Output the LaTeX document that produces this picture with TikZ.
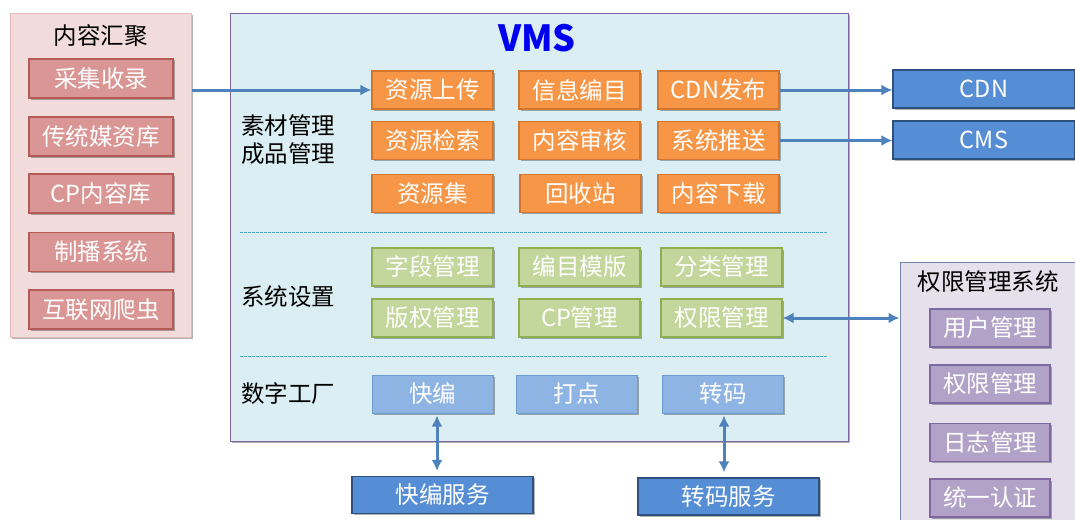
\documentclass[tikz,border=0pt]{standalone}
\usepackage{fontspec}
\setmainfont{Noto Sans CJK SC}
\usetikzlibrary{arrows.meta,shadows}
\definecolor{hjfill}{HTML}{F2DCDB}
\definecolor{hjdraw}{HTML}{E6B9B8}
\definecolor{redf}{HTML}{D99694}
\definecolor{redd}{HTML}{B65A57}
\definecolor{vmsfill}{HTML}{DAEEF3}
\definecolor{vmsdraw}{HTML}{8064A2}
\definecolor{orf}{HTML}{F79646}
\definecolor{ord}{HTML}{D2752E}
\definecolor{grf}{HTML}{C3D69B}
\definecolor{grd}{HTML}{8FAE52}
\definecolor{lbf}{HTML}{8EB4E3}
\definecolor{lbd}{HTML}{6C9BD2}
\definecolor{dbf}{HTML}{558ED5}
\definecolor{dbd}{HTML}{2F4F7F}
\definecolor{qxfill}{HTML}{E5E0EC}
\definecolor{qxdraw}{HTML}{6F86A8}
\definecolor{puf}{HTML}{B3A2C7}
\definecolor{pud}{HTML}{7D68A0}
\definecolor{arrc}{HTML}{4F81BD}
\definecolor{dashc}{HTML}{4BACC6}
\definecolor{vmsblue}{HTML}{0000F0}
\begin{document}
\begin{tikzpicture}[x=1pt,y=-1pt,
  font=\fontsize{23.5}{28}\selectfont,
  shd/.style={drop shadow={shadow xshift=1.5pt,shadow yshift=-1.5pt,opacity=0.3,fill=black}},
  panel/.style={draw, line width=1pt, inner sep=0pt, shd},
  box/.style={draw, line width=1.2pt, inner sep=0pt, text=white, minimum height=38pt, minimum width=121pt, shd},
  hjbox/.style={box, fill=redf, draw=redd, minimum width=144pt, minimum height=39pt},
  obox/.style={box, fill=orf, draw=ord},
  gbox/.style={box, fill=grf, draw=grd},
  lbox/.style={box, fill=lbf, draw=lbd, line width=1pt},
  dbox/.style={box, fill=dbf, draw=dbd, minimum width=181pt, minimum height=37pt},
  pbox/.style={box, fill=puf, draw=pud, minimum width=120pt},
  arr/.style={draw=arrc, line width=3pt, -{Latex[length=11pt,width=11pt]}},
  darr/.style={draw=arrc, line width=3pt, {Latex[length=11pt,width=11pt]}-{Latex[length=11pt,width=11pt]}},
  sep/.style={draw=dashc, line width=0.8pt, dash pattern=on 2.5pt off 1.5pt},
  lbl/.style={anchor=west, inner sep=0pt, text=black}
]
\useasboundingbox (0,0) rectangle (1075,519);

% panels
\node[panel, fill=hjfill, draw=hjdraw, minimum width=181pt, minimum height=323pt] (hj) at (100.5,175.5) {};
\node[panel, fill=vmsfill, draw=vmsdraw, minimum width=618pt, minimum height=427pt] (vms) at (539,227.5) {};
\node[panel, fill=qxfill, draw=qxdraw, minimum width=190pt, minimum height=273pt] (qxs) at (995,398.5) {};

% titles
\node[inner sep=0pt] (hjt) at (100.5,36) {内容汇聚};
\node[inner sep=0pt, text=vmsblue, font=\fontsize{36}{38}\selectfont\bfseries] (vmst) at (537,38) {VMS};
\node[inner sep=0pt] (qxt) at (988,282) {权限管理系统};

% left boxes
\node[hjbox] (cj) at (101,78.5) {采集收录};
\node[hjbox] (ct) at (101,136.5) {传统媒资库};
\node[hjbox] (cp) at (101,193.5) {CP内容库};
\node[hjbox] (zb) at (101,252) {制播系统};
\node[hjbox] (hl) at (101,309.5) {互联网爬虫};

% section labels
\node[lbl, align=left] (sc) at (241,140) {素材管理\\成品管理};
\node[lbl] (xtsz) at (241,297) {系统设置};
\node[lbl] (szgc) at (241,394) {数字工厂};

% orange boxes
\node[obox] (zysc) at (432.5,90) {资源上传};
\node[obox] (xxbm) at (579.5,90) {信息编目};
\node[obox] (cdnfb) at (718.5,90) {CDN发布};
\node[obox] (zyjs) at (432.5,140.5) {资源检索};
\node[obox] (nrsh) at (579.5,140.5) {内容审核};
\node[obox] (xttx) at (718.5,140.5) {系统推送};
\node[obox] (zyj) at (432.5,193.5) {资源集};
\node[obox] (hsz) at (580.5,193.5) {回收站};
\node[obox] (nrxz) at (718.5,193.5) {内容下载};

% separators
\coordinate (s1a) at (240,232); \coordinate (s1b) at (828,232);
\coordinate (s2a) at (240,356); \coordinate (s2b) at (828,356);
\draw[sep] (s1a) -- (s1b);
\draw[sep] (s2a) -- (s2b);

% green boxes
\node[gbox] (zdgl) at (432.5,267) {字段管理};
\node[gbox] (bmmb) at (579.5,267) {编目模版};
\node[gbox] (flgl) at (721.5,267) {分类管理};
\node[gbox] (bqgl) at (432.5,318) {版权管理};
\node[gbox] (cpgl) at (579.5,318) {CP管理};
\node[gbox] (qxgl) at (721.5,318) {权限管理};

% light blue boxes
\node[lbox] (kb) at (432.5,394) {快编};
\node[lbox] (dd) at (576.5,394) {打点};
\node[lbox] (zm) at (723,394) {转码};

% dark blue boxes
\node[dbox] (kbfw) at (442.5,495) {快编服务};
\node[dbox] (zmfw) at (728.5,496.5) {转码服务};
\node[dbox, minimum width=182pt, minimum height=38pt] (cdn) at (984,89) {CDN};
\node[dbox, minimum width=182pt, minimum height=38pt] (cms) at (984,140) {CMS};

% purple boxes
\node[pbox] (yhgl) at (990,328) {用户管理};
\node[pbox] (qxgl2) at (990,384) {权限管理};
\node[pbox] (rzgl) at (990,442.5) {日志管理};
\node[pbox] (tyrz) at (990,498) {统一认证};

% connectors
\draw[arr] (hj.east |- zysc.west) -- (zysc.west);
\draw[arr] (cdnfb.east) -- (cdnfb.east -| cdn.west);
\draw[arr] (xttx.east) -- (xttx.east -| cms.west);
\draw[darr] (qxgl.east) -- (qxgl.east -| qxs.west);
\draw[darr, shorten <=2pt, shorten >=5pt] ([xshift=4.5pt]kb.south) -- ([xshift=4.5pt]kb.south |- kbfw.north);
\draw[darr, shorten <=2pt, shorten >=5pt] ([xshift=1pt]zm.south) -- ([xshift=1pt]zm.south |- zmfw.north);
\end{tikzpicture}
\end{document}
